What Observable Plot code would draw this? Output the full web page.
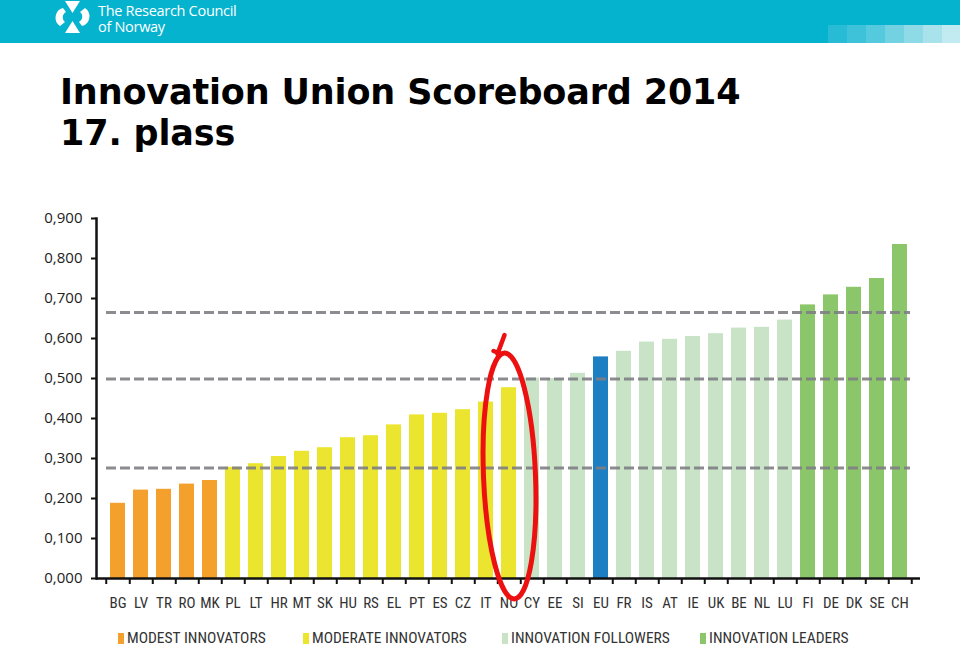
<!DOCTYPE html>
<html>
<head>
<meta charset="utf-8">
<script src="https://cdn.jsdelivr.net/npm/d3@7"></script>
<script src="https://cdn.jsdelivr.net/npm/@observablehq/plot@0.6"></script>
<style>
  html, body { margin: 0; padding: 0; background: #fff; }
  #page { position: relative; width: 960px; height: 658px; overflow: hidden; background: #fff; }
  #header { position: absolute; left: 0; top: 0; width: 960px; height: 43px; background: #05b3ce; }
  .sq { position: absolute; top: 25px; height: 18px; width: 19px; }
  .brand { position: absolute; left: 98px; color: #fff; font-family: "Open Sans", sans-serif; font-size: 14.5px; line-height: 15px; letter-spacing: -0.3px; white-space: nowrap; }
  #title { position: absolute; left: 60px; top: 72px; font-family: "DejaVu Sans", Verdana, sans-serif; font-weight: bold; font-size: 35px; line-height: 41px; color: #000; letter-spacing: -0.15px; }
  #chart { position: absolute; left: 0; top: 205px; }
  .leg { position: absolute; top: 629px; font-family: "Roboto Condensed", "Liberation Sans Narrow", Roboto, sans-serif; font-size: 15.5px; color: #333; white-space: nowrap; }
  .leg i { display: inline-block; width: 6px; height: 11px; margin-right: 3px; vertical-align: -1px; }
</style>
</head>
<body>
<div id="page">
  <div id="header">
    <svg width="60" height="43" style="position:absolute;left:50px;top:0">
      <polygon points="15,1 30,1 22.5,13" fill="#fff"/>
      <polygon points="15,33 30,33 22.5,21" fill="#fff"/>
      <path d="M13,8 A10,10 0 0 0 10,26 L15,22 A6,6 0 0 1 16,12 Z" fill="#fff"/>
      <path d="M32,26 A10,10 0 0 0 35,8 L30,12 A6,6 0 0 1 29,22 Z" fill="#fff"/>
    </svg>
    <div class="brand" style="top:3px">The Research Council</div>
    <div class="brand" style="top:19px">of Norway</div>
    <div class="sq" style="left:828px;background:#27bbd5"></div>
    <div class="sq" style="left:847px;background:#3dc2d9"></div>
    <div class="sq" style="left:866px;background:#55c9dd"></div>
    <div class="sq" style="left:885px;background:#72d2e2"></div>
    <div class="sq" style="left:904px;background:#8edbe7"></div>
    <div class="sq" style="left:923px;background:#a8e3ec"></div>
    <div class="sq" style="left:942px;background:#c2ebf1"></div>
  </div>
  <div id="title">Innovation Union Scoreboard 2014<br>17. plass</div>
  <div id="chart"></div>
  <div class="leg" style="left:118px"><i style="background:#f4a02d"></i>MODEST INNOVATORS</div>
  <div class="leg" style="left:303px"><i style="background:#ebe52f"></i>MODERATE INNOVATORS</div>
  <div class="leg" style="left:502px"><i style="background:#c9e3c6"></i>INNOVATION FOLLOWERS</div>
  <div class="leg" style="left:700px"><i style="background:#8cc66a"></i>INNOVATION LEADERS</div>
</div>
<script>
// ---- data ----
const countries = ["BG","LV","TR","RO","MK","PL","LT","HR","MT","SK","HU","RS","EL","PT","ES","CZ","IT","NO","CY","EE","SI","EU","FR","IS","AT","IE","UK","BE","NL","LU","FI","DE","DK","SE","CH"];
const scores = [0.188,0.221,0.223,0.236,0.245,0.278,0.287,0.305,0.318,0.327,0.352,0.357,0.384,0.409,0.413,0.422,0.441,0.477,0.501,0.500,0.513,0.554,0.568,0.591,0.598,0.605,0.612,0.626,0.628,0.646,0.684,0.709,0.728,0.750,0.835];
const groups = ["Modest","Modest","Modest","Modest","Modest","Moderate","Moderate","Moderate","Moderate","Moderate","Moderate","Moderate","Moderate","Moderate","Moderate","Moderate","Moderate","Moderate","Follower","Follower","Follower","EU","Follower","Follower","Follower","Follower","Follower","Follower","Follower","Follower","Leader","Leader","Leader","Leader","Leader"];
const groupNames = ["Modest","Moderate","Follower","Leader","EU"];
const groupColors = ["#f4a02d","#ebe52f","#c9e3c6","#8cc66a","#1c7fc4"];
const thresholds = [0.276, 0.499, 0.665];
const yTicks = [0,0.1,0.2,0.3,0.4,0.5,0.6,0.7,0.8,0.9];

const data = countries.map((c, i) => ({country: c, value: scores[i], group: groups[i]}));

const W = 960, H = 453, ML = 96, MR = 40, MT = 13, MB = 80;
const step = (W - ML - MR) / countries.length;
const fmt = d => d.toFixed(3).replace(".", ",");

const plot = Plot.plot({
  width: W, height: H,
  marginLeft: ML, marginRight: MR, marginTop: MT, marginBottom: MB,
  style: {fontFamily: "'Open Sans', sans-serif", background: "transparent", overflow: "visible"},
  x: {domain: countries, paddingInner: 0.36, paddingOuter: 0.18, axis: null, label: null},
  y: {domain: [0, 0.9], axis: null, label: null},
  color: {domain: groupNames, range: groupColors},
  marks: [
    Plot.barY(data, {x: "country", y: "value", fill: "group"}),
    Plot.ruleY(thresholds, {stroke: "#7e7e84", strokeWidth: 3, strokeDasharray: "10,4", insetLeft: 10, insetRight: 10, strokeOpacity: 0.9}),
    Plot.axisY({ticks: yTicks, tickFormat: fmt, tickSize: 5, tickPadding: 9, fontSize: 15, stroke: "#111", strokeWidth: 2, color: "#222", label: null}),
    Plot.frame({anchor: "left", stroke: "#111", strokeWidth: 2.5}),
    Plot.ruleY([0], {stroke: "#111", strokeWidth: 2.5}),
    Plot.axisX({ticks: countries, tickSize: 6, dx: step / 2, text: null, stroke: "#111", strokeWidth: 2, label: null}),
    Plot.axisX({ticks: [countries[0]], tickSize: 6, dx: -step / 2, text: null, stroke: "#111", strokeWidth: 2, label: null}),
    Plot.axisX({ticks: countries, tickSize: 0, tickPadding: 19, fontSize: 15, fill: "#333", fontFamily: "'Roboto Condensed', 'Liberation Sans Narrow', Roboto, sans-serif", label: null})
  ]
});
document.getElementById("chart").appendChild(plot);

// red hand-drawn annotation circling Norway
const xs = plot.scale("x"), ys = plot.scale("y");
const cx = xs.apply("NO") + xs.bandwidth / 2 + 1;
const cy = ys.apply(0.255);
const svg = d3.select(plot);
svg.append("ellipse")
  .attr("cx", cx).attr("cy", cy).attr("rx", 26).attr("ry", 123)
  .attr("transform", `rotate(-2.3 ${cx} ${cy})`)
  .attr("fill", "none").attr("stroke", "#ec1010").attr("stroke-width", 5);
svg.append("path")
  .attr("d", `M${cx - 5},${cy - 141} L${cx - 12},${cy - 122} M${cx - 16},${cy - 125} L${cx - 8},${cy - 122}`)
  .attr("fill", "none").attr("stroke", "#ec1010").attr("stroke-width", 4.5).attr("stroke-linecap", "round");
</script>
</body>
</html>
